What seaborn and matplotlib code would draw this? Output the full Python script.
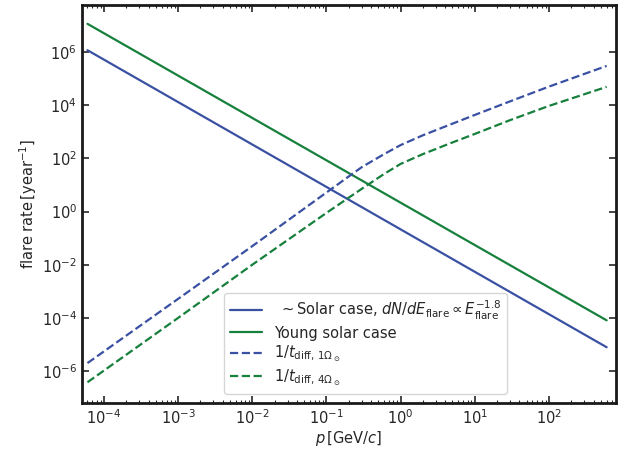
import numpy as np
import pandas as pd
import matplotlib
matplotlib.use('Agg')
import matplotlib.pyplot as plt
import matplotlib.ticker as mticker
import seaborn as sns

# momentum grid [GeV/c]
p_solid = [6e-5, 600]
rate_solar = [1.17e6, 7.9e-6]
rate_young = [1.15e7, 8.1e-5]

p_diff = [6e-5, 1e-3, 1e-2, 0.1, 0.3, 0.6, 1, 2, 4.5, 10, 30, 100, 600]
rate_diff_1 = [2.0e-6, 5.2e-4, 5.0e-2, 5.2, 47, 145, 316, 740, 1.8e3, 4.3e3, 1.4e4, 5.0e4, 3.0e5]
rate_diff_4 = [3.8e-7, 1.0e-4, 1.0e-2, 0.89, 7.2, 26, 62, 145, 355, 830, 2.75e3, 9.4e3, 4.9e4]

labels = [r' $\sim$Solar case, $dN/dE_{\rm flare} \propto E_{\rm flare}^{-1.8}$',
          'Young solar case',
          r'$1/t_{\rm diff,\,1\Omega_\odot}$',
          r'$1/t_{\rm diff,\,4\Omega_\odot}$']

blue = '#3a51a3'
green = '#16803c'

sns.set_theme(style='ticks')
plt.rcParams['font.family'] = ['DejaVu Sans']
plt.rcParams['xtick.direction'] = 'in'
plt.rcParams['ytick.direction'] = 'in'

fig = plt.figure(figsize=(6.33, 4.49), dpi=100)
ax = fig.add_axes([0.1295, 0.1024, 0.8435, 0.8866])

sns.lineplot(x=p_solid, y=rate_solar, ax=ax, color=blue, lw=1.6, label=labels[0])
sns.lineplot(x=p_solid, y=rate_young, ax=ax, color=green, lw=1.6, label=labels[1])
sns.lineplot(x=p_diff, y=rate_diff_1, ax=ax, color=blue, lw=1.6, ls='--', label=labels[2])
sns.lineplot(x=p_diff, y=rate_diff_4, ax=ax, color=green, lw=1.6, ls='--', label=labels[3])

ax.set_xscale('log')
ax.set_yscale('log')
ax.set_xlim(5.06e-5, 8e2)
ax.set_ylim(6.3e-8, 5.9e7)
ax.yaxis.set_major_locator(mticker.FixedLocator([1e-6, 1e-4, 1e-2, 1, 1e2, 1e4, 1e6]))
ax.yaxis.set_minor_locator(mticker.NullLocator())
ax.xaxis.set_minor_locator(mticker.LogLocator(base=10, subs=np.arange(2, 10), numticks=20))

ax.tick_params(which='both', top=True, right=True, direction='in')
ax.tick_params(which='major', length=5, width=1.2, labelsize=10.5)
ax.tick_params(which='minor', length=2.5, width=0.8)
for s in ax.spines.values():
    s.set_linewidth(2)
    s.set_color('#1a1a1a')

ax.set_xlabel(r'$p\,[\mathrm{GeV}/c]$', fontsize=10.5, labelpad=2)
ax.set_ylabel(r'flare rate$\,[\mathrm{year}^{-1}]$', fontsize=10.5, labelpad=2)

ax.legend(loc='lower left', bbox_to_anchor=(0.266, 0.023), borderaxespad=0,
          fontsize=10.5, handlelength=2.2, labelspacing=0.25, frameon=True,
          framealpha=0.8, edgecolor='#cccccc')

fig.savefig('out.png', dpi=100)
